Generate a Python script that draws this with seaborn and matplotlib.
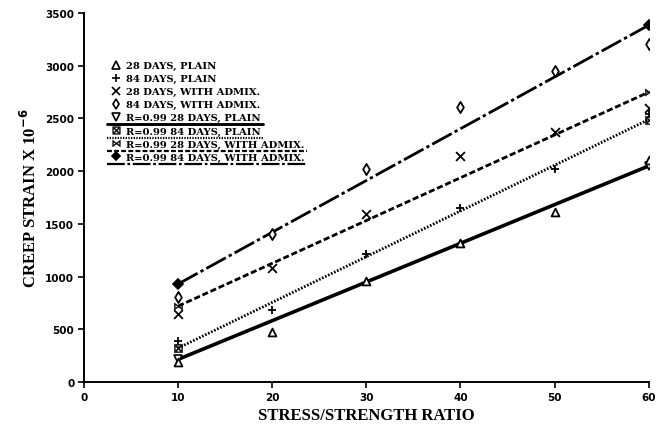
import matplotlib
matplotlib.use("Agg")
import matplotlib.pyplot as plt
import seaborn as sns
import pandas as pd
from matplotlib.lines import Line2D

# ---- data ----
ratio = [10, 20, 30, 40, 50, 60]
plain_28 = [190, 475, 955, 1315, 1610, 2110]
plain_84 = [390, 685, 1210, 1650, 2020, 2540]
admix_28 = [645, 1080, 1590, 2145, 2370, 2600]
admix_84 = [805, 1400, 2020, 2610, 2950, 3205]

fit_x = [10, 60]
fit_plain_28 = [215, 2050]
fit_plain_84 = [322, 2490]
fit_admix_28 = [720, 2750]
fit_admix_84 = [930, 3385]

labels = ["28 DAYS, PLAIN", "84 DAYS, PLAIN", "28 DAYS, WITH ADMIX.", "84 DAYS, WITH ADMIX."]
fit_labels = ["R=0.99 28 DAYS, PLAIN", "R=0.99 84 DAYS, PLAIN",
              "R=0.99 28 DAYS, WITH ADMIX.", "R=0.99 84 DAYS, WITH ADMIX."]
x_ticks = [0, 10, 20, 30, 40, 50, 60]
y_ticks = [0, 500, 1000, 1500, 2000, 2500, 3000, 3500]

sns.set_style("ticks")
plt.rcParams['font.family'] = ['DejaVu Sans']
plt.rcParams.update({"text.color": "black", "axes.labelcolor": "black",
                     "xtick.color": "black", "ytick.color": "black"})

fig = plt.figure(figsize=(6.64, 4.27), dpi=100)
ax = fig.add_axes([0.1265, 0.103, 0.8505, 0.864])

obs = pd.DataFrame({
    "x": ratio * 4,
    "y": plain_28 + plain_84 + admix_28 + admix_84,
    "s": sum([[l] * len(ratio) for l in labels], []),
})
fits = pd.DataFrame({
    "x": fit_x * 4,
    "y": fit_plain_28 + fit_plain_84 + fit_admix_28 + fit_admix_84,
    "s": sum([[l] * len(fit_x) for l in fit_labels], []),
})

line_styles = {
    fit_labels[0]: dict(ls="-", lw=2.6),
    fit_labels[1]: dict(ls=(0, (0.6, 0.6)), lw=2.0),
    fit_labels[2]: dict(ls=(0, (2.2, 1.0)), lw=2.0),
    fit_labels[3]: dict(ls=(0, (8, 1.2, 1.2, 1.2)), lw=2.0),
}
fit_markers = {
    fit_labels[0]: dict(marker="v", mfc="white", ms=6, mew=1.2),
    fit_labels[1]: dict(marker=r"$\boxtimes$", mfc="black", ms=6, mew=0.3),
    fit_labels[2]: dict(marker=r"$\bowtie$", mfc="black", ms=6, mew=0.3),
    fit_labels[3]: dict(marker="D", mfc="black", ms=5, mew=1.2),
}

for lab in fit_labels:
    sub = fits[fits.s == lab]
    sns.lineplot(data=sub, x="x", y="y", ax=ax, color="black",
                 linestyle=line_styles[lab]["ls"], lw=line_styles[lab]["lw"],
                 legend=False)
    fm = fit_markers[lab]
    ax.plot(sub.x, sub.y, linestyle="none", marker=fm["marker"], color="black",
            mfc=fm["mfc"], mec="black", ms=fm["ms"], mew=fm["mew"], zorder=4)

obs_markers = {labels[0]: "^", labels[1]: "+", labels[2]: "x", labels[3]: "d"}
for lab in labels:
    sub = obs[obs.s == lab]
    m = obs_markers[lab]
    if m in ("+", "x"):
        sns.scatterplot(data=sub, x="x", y="y", ax=ax, marker=m, color="black",
                        s=40, linewidth=1.3, legend=False, zorder=5)
    else:
        sns.scatterplot(data=sub, x="x", y="y", ax=ax, marker=m, facecolor="white",
                        edgecolor="black", s=32, linewidth=1.3, legend=False, zorder=5)

ax.set_xlim(0, 60)
ax.set_ylim(0, 3500)
ax.set_xticks(x_ticks)
ax.set_yticks(y_ticks)
ax.set_xticklabels([str(t) for t in x_ticks], fontsize=7.5, fontweight="bold")
ax.set_yticklabels([str(t) for t in y_ticks], fontsize=7.5, fontweight="bold")
ax.tick_params(direction="out", length=4, width=1.2, pad=3, color="black")
for sp in ["left", "bottom"]:
    ax.spines[sp].set_linewidth(1.4)
    ax.spines[sp].set_color("black")
sns.despine(ax=ax)

ax.set_xlabel("STRESS/STRENGTH RATIO", fontsize=12, fontweight="bold",
              family="Liberation Serif", labelpad=4)
ax.set_ylabel(r"CREEP STRAIN X 10$^{\mathbf{-6}}$", fontsize=12, fontweight="bold",
              family="Liberation Serif", labelpad=4)

handles = []
for lab in labels:
    m = obs_markers[lab]
    handles.append(Line2D([], [], linestyle="none", marker=m, color="black",
                          mfc="white", mec="black", ms=5.5, mew=1.2))
for lab in fit_labels:
    fm = fit_markers[lab]
    handles.append(Line2D([], [], linestyle="none", marker=fm["marker"], color="black",
                          mfc=fm["mfc"], mec="black", ms=fm["ms"] - 0.5, mew=fm["mew"]))

leg = ax.legend(handles, labels + fit_labels, loc="upper left",
                bbox_to_anchor=(0.035, 0.888), frameon=False,
                prop=dict(family="DejaVu Serif", weight="bold", size=7.2),
                handlelength=1.0, handletextpad=0.5, labelspacing=0.4,
                borderpad=0.2)

fig.canvas.draw()
renderer = fig.canvas.get_renderer()
inv = fig.transFigure.inverted()
texts = leg.get_texts()
legx0 = leg.get_window_extent(renderer).x0
for i, lab in enumerate(fit_labels):
    bb = texts[4 + i].get_window_extent(renderer)
    (fx0, fy0) = inv.transform((legx0 - 2, bb.y0 - 2))
    (fx1, _) = inv.transform((bb.x1 + 3, bb.y0 - 2))
    st = line_styles[lab]
    fig.add_artist(Line2D([fx0, fx1], [fy0, fy0], color="black",
                          linestyle=st["ls"], lw=st["lw"] * 0.8))

fig.savefig("out.png", dpi=100)
